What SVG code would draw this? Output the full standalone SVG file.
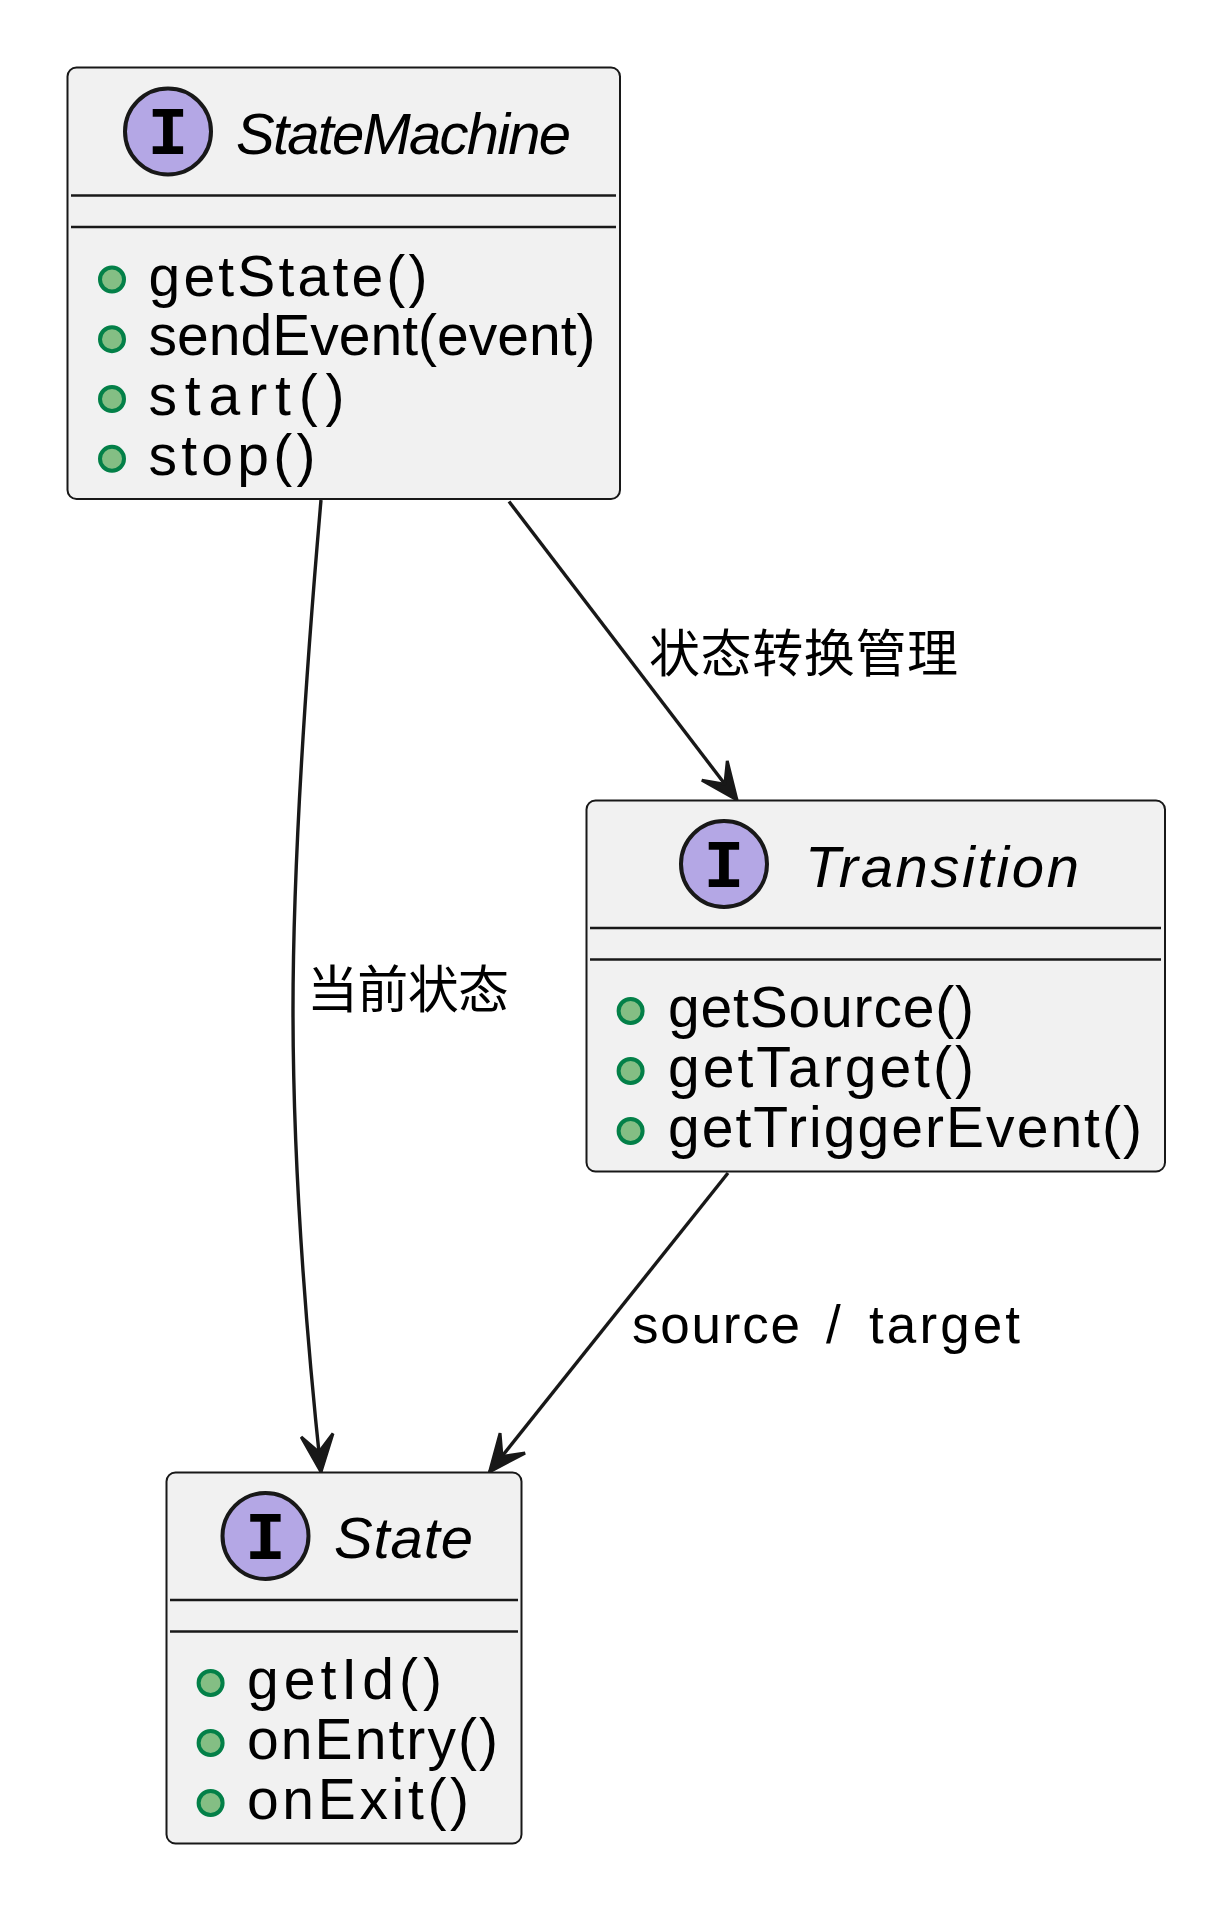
<svg xmlns="http://www.w3.org/2000/svg" width="1232" height="1908" viewBox="0 0 1232 1908">
<style>
.box{fill:#F1F1F1;stroke:#181818;stroke-width:2}
.sep{stroke:#181818;stroke-width:2.4}
.ic{fill:#B4A7E5;stroke:#181818;stroke-width:4}
.iglyph{font-family:"Liberation Mono",monospace;font-weight:bold;font-size:68px;fill:#000;text-anchor:middle}
.title{font-family:"Liberation Sans",Arial,sans-serif;font-style:italic;font-size:58px;fill:#000}
.mc{fill:#84BE84;stroke:#038048;stroke-width:4}
.mem{font-family:"Liberation Sans",Arial,sans-serif;font-size:57px;fill:#000}
.edge{fill:none;stroke:#181818;stroke-width:3.4}
.lbl{font-family:"Liberation Sans","Noto Sans CJK SC",sans-serif;font-size:53px;fill:#000}
.cjk{font-family:"Noto Sans CJK SC",sans-serif;font-size:51px;fill:#000}
</style>
<defs>
<marker id="arr" markerUnits="userSpaceOnUse" markerWidth="44" markerHeight="40" refX="39" refY="18" orient="auto" overflow="visible">
<path d="M39,18 L2,2 L19,18 L2,34 Z" fill="#181818" stroke="#181818" stroke-width="3" stroke-linejoin="miter"/>
</marker>
</defs>
<g id="connectors">
<path class="edge" d="M321,500 C308,650 293,850 293,1010 C293,1180 308,1350 321,1472" marker-end="url(#arr)"/>
<text class="cjk" x="307" y="1008" textLength="202">当前状态</text>
<path class="edge" d="M509,501.5 L737,800" marker-end="url(#arr)"/>
<text class="cjk" x="649" y="672" textLength="309">状态转换管理</text>
<path class="edge" d="M728,1173 L489.5,1472" marker-end="url(#arr)"/>
<text class="lbl" y="1343"><tspan x="632" textLength="168">source</tspan><tspan x="826">/</tspan><tspan x="869" textLength="151">target</tspan></text>
</g>
<g id="StateMachine">
<rect class="box" x="67.5" y="67.5" width="552.5" height="431.5" rx="9"/>
<circle class="ic" cx="168" cy="131.5" r="43"/>
<text class="iglyph" x="168" y="154">I</text>
<text class="title" x="236" y="153.5" textLength="335">StateMachine</text>
<line class="sep" x1="71" y1="195.5" x2="616" y2="195.5"/>
<line class="sep" x1="71" y1="227" x2="616" y2="227"/>
<circle class="mc" cx="112" cy="279.5" r="12"/>
<text class="mem" x="148.5" y="295.5" textLength="279">getState()</text>
<circle class="mc" cx="112" cy="339.2" r="12"/>
<text class="mem" x="148.5" y="355.2" textLength="447">sendEvent(event)</text>
<circle class="mc" cx="112" cy="399" r="12"/>
<text class="mem" x="148.5" y="415" textLength="196">start()</text>
<circle class="mc" cx="112" cy="458.8" r="12"/>
<text class="mem" x="148.5" y="474.8" textLength="167">stop()</text>
</g>
<g id="Transition">
<rect class="box" x="586.5" y="800.5" width="578.5" height="371" rx="9"/>
<circle class="ic" cx="724" cy="864" r="43"/>
<text class="iglyph" x="724" y="886.5">I</text>
<text class="title" x="805" y="887" textLength="274">Transition</text>
<line class="sep" x1="590" y1="928" x2="1161" y2="928"/>
<line class="sep" x1="590" y1="959.5" x2="1161" y2="959.5"/>
<circle class="mc" cx="630.6" cy="1011" r="12"/>
<text class="mem" x="668" y="1027" textLength="306">getSource()</text>
<circle class="mc" cx="630.6" cy="1071" r="12"/>
<text class="mem" x="668" y="1087" textLength="306">getTarget()</text>
<circle class="mc" cx="630.6" cy="1131" r="12"/>
<text class="mem" x="668" y="1147" textLength="474">getTriggerEvent()</text>
</g>
<g id="State">
<rect class="box" x="166.5" y="1472.5" width="355" height="371" rx="9"/>
<circle class="ic" cx="265.5" cy="1536" r="43"/>
<text class="iglyph" x="265.5" y="1558.5">I</text>
<text class="title" x="334" y="1558" textLength="139">State</text>
<line class="sep" x1="170" y1="1600" x2="518" y2="1600"/>
<line class="sep" x1="170" y1="1631.5" x2="518" y2="1631.5"/>
<circle class="mc" cx="210.6" cy="1683" r="12"/>
<text class="mem" x="247" y="1699" textLength="195">getId()</text>
<circle class="mc" cx="210.6" cy="1743" r="12"/>
<text class="mem" x="247" y="1759" textLength="251">onEntry()</text>
<circle class="mc" cx="210.6" cy="1803" r="12"/>
<text class="mem" x="247" y="1819" textLength="222">onExit()</text>
</g>
</svg>
